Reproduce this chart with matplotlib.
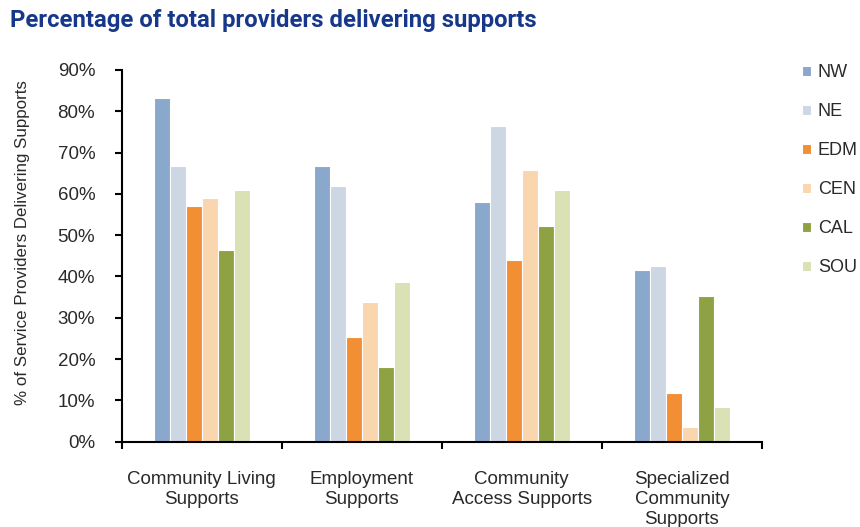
import numpy as np
import matplotlib.pyplot as plt
from matplotlib.ticker import PercentFormatter

##### DATA #####
categories = ['Community Living\nSupports', 'Employment\nSupports',
              'Community\nAccess Supports', 'Specialized\nCommunity\nSupports']
regions = ['NW', 'NE', 'EDM', 'CEN', 'CAL', 'SOU']
nw = [83.1, 66.7, 58.0, 41.6]
ne = [66.7, 61.9, 76.4, 42.5]
edm = [57.1, 25.3, 44.0, 11.7]
cen = [59.1, 33.9, 65.8, 3.5]
cal = [46.4, 18.0, 52.3, 35.3]
sou = [60.9, 38.7, 60.9, 8.3]
series = [nw, ne, edm, cen, cal, sou]
colors = ['#8aa7cc', '#cdd7e3', '#f28e33', '#f9d6ae', '#8ea243', '#d9e1b5']

plt.rcParams['font.family'] = ['Liberation Sans', 'DejaVu Sans']
txt = '#2a2a2a'

fig = plt.figure(figsize=(8.6, 5.27), dpi=100)
ax = fig.add_axes([0.1413, 0.1619, 0.7447, 0.7053])

x = np.arange(len(categories))
slot = 0.1
for i, (vals, c, lab) in enumerate(zip(series, colors, regions)):
    ax.bar(x + (i - 2.5) * slot, vals, width=slot, color=c,
           edgecolor='white', linewidth=0.8, label=lab)

ax.set_xlim(-0.5, len(categories) - 0.5)
ax.set_ylim(0, 90)
ax.set_yticks(np.arange(0, 91, 10))
ax.yaxis.set_major_formatter(PercentFormatter(decimals=0))
ax.set_xticks(x)
ax.set_xticklabels(categories, linespacing=1.25)
ax.set_xticks(np.arange(-0.5, len(categories), 1), minor=True)
ax.tick_params(axis='x', which='major', length=0, pad=21, labelsize=13.5,
               labelcolor=txt)
ax.tick_params(axis='x', which='minor', length=5, width=1.5, direction='out')
ax.tick_params(axis='y', length=5, width=1.5, pad=14, labelsize=13.5,
               labelcolor=txt)

for s in ['top', 'right']:
    ax.spines[s].set_visible(False)
for s in ['left', 'bottom']:
    ax.spines[s].set_linewidth(1.5)

ax.set_ylabel('% of Service Providers Delivering Supports', fontsize=12.2,
              color=txt)
ax.yaxis.set_label_coords(-0.143, 0.537)

fig.text(0.012, 0.961, 'Percentage of total providers delivering supports',
         fontsize=17.2, fontweight='bold', color='#17388a',
         family=['Roboto', 'DejaVu Sans'], va='center')

fig.legend(loc='upper left', bbox_to_anchor=(0.933, 0.878), frameon=False,
           borderpad=0, borderaxespad=0,
           handlelength=0.5, handleheight=0.5, handletextpad=0.35,
           labelspacing=1.22, fontsize=13, labelcolor=txt)

fig.savefig('out.png', dpi=100)
